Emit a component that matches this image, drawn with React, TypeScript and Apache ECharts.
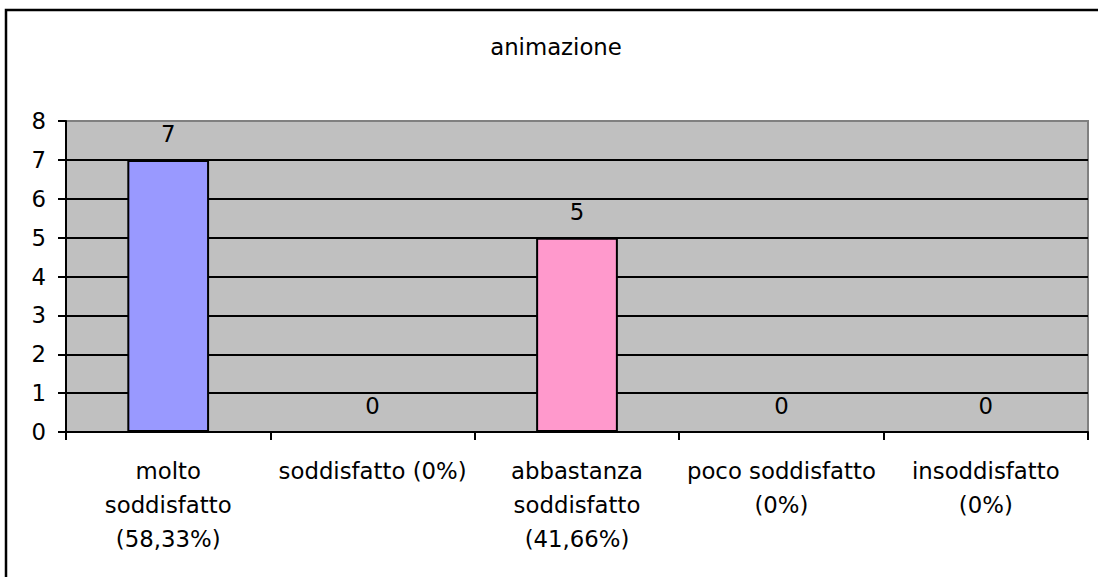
import React, { useEffect, useRef } from "react";
import * as echarts from "echarts";

const titleText = "animazione";
const categories = [
  "molto\nsoddisfatto\n(58,33%)",
  "soddisfatto (0%)",
  "abbastanza\nsoddisfatto\n(41,66%)",
  "poco soddisfatto\n(0%)",
  "insoddisfatto\n(0%)",
];
const values = [7, 0, 5, 0, 0];
const barColors = ["#9999FF", "#9999FF", "#FF99CC", "#9999FF", "#9999FF"];
const yMin = 0;
const yMax = 8;
const yInterval = 1;

const FONT = "'DejaVu Sans', 'Liberation Sans', Arial, sans-serif";
const FS = 22.8;

export default function App() {
  const ref = useRef<HTMLDivElement>(null);

  useEffect(() => {
    if (!ref.current) return;
    const chart = echarts.init(ref.current, null, { renderer: "svg" });
    chart.setOption({
      animation: false,
      backgroundColor: "#FFFFFF",
      textStyle: { fontFamily: FONT },
      graphic: [
        {
          type: "rect",
          shape: { x: 6, y: 10, width: 1300, height: 800 },
          style: { fill: "none", stroke: "#000000", lineWidth: 2.5 },
          silent: true,
        },
        {
          type: "text",
          x: 556,
          y: 47,
          style: {
            text: titleText,
            align: "center",
            verticalAlign: "middle",
            fontSize: FS,
            fontFamily: FONT,
            fill: "#000000",
          },
        },
      ],
      grid: {
        left: 66,
        right: 10,
        top: 121,
        bottom: 145,
        show: true,
        backgroundColor: "#C0C0C0",
        borderColor: "#808080",
        borderWidth: 2,
      },
      xAxis: {
        type: "category",
        data: categories,
        axisLine: { show: true, lineStyle: { color: "#000000", width: 2 } },
        axisTick: {
          show: true,
          alignWithLabel: false,
          length: 8,
          lineStyle: { color: "#000000", width: 2 },
        },
        axisLabel: {
          interval: 0,
          margin: 22,
          fontSize: FS,
          lineHeight: 34,
          color: "#000000",
          fontFamily: FONT,
          align: "center",
        },
      },
      yAxis: {
        type: "value",
        min: yMin,
        max: yMax,
        interval: yInterval,
        axisLine: { show: true, lineStyle: { color: "#000000", width: 2 } },
        axisTick: {
          show: true,
          length: 8,
          lineStyle: { color: "#000000", width: 2 },
        },
        axisLabel: {
          margin: 20,
          fontSize: FS,
          color: "#000000",
          fontFamily: FONT,
        },
        splitLine: {
          show: true,
          showMinLine: false,
          showMaxLine: false,
          lineStyle: { color: "#000000", width: 2 },
        },
      },
      series: [
        {
          type: "bar",
          barWidth: "40%",
          data: values.map((v, i) => ({
            value: v,
            itemStyle: {
              color: barColors[i],
              borderColor: "#000000",
              borderWidth: 2,
            },
          })),
          label: {
            show: true,
            position: "top",
            distance: 14,
            fontSize: FS,
            color: "#000000",
            fontFamily: FONT,
          },
        },
      ],
    });
    return () => chart.dispose();
  }, []);

  return (
    <div
      ref={ref}
      style={{ position: "absolute", left: 0, top: 0, width: 1098, height: 577 }}
    />
  );
}
